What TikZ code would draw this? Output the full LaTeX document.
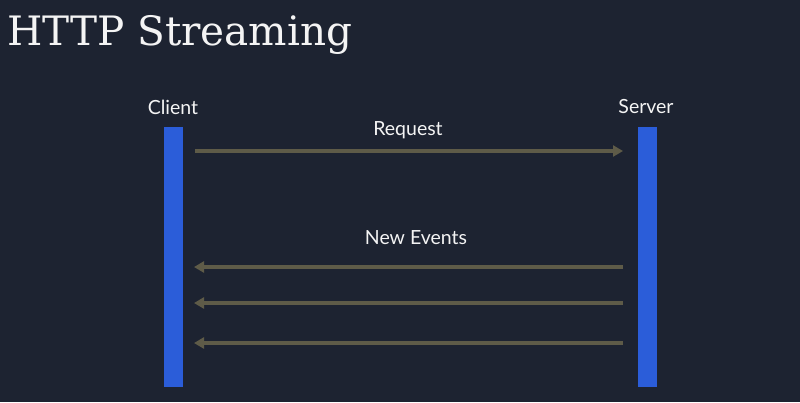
\documentclass[tikz,border=0pt]{standalone}
\usepackage{fontspec}
\setmainfont{DejaVu Serif}
\newfontfamily\labelfont{Lato}
\usetikzlibrary{arrows.meta}
\definecolor{bg}{HTML}{1D2331}
\definecolor{barblue}{HTML}{2B5DD9}
\definecolor{arrowc}{HTML}{5E5B48}
\definecolor{txt}{HTML}{F4F4F4}
\begin{document}
\begin{tikzpicture}[x=1pt,y=-1pt,
  lifeline/.style={fill=barblue,draw=none,minimum width=19pt,minimum height=260pt,inner sep=0pt},
  lbl/.style={text=txt,font=\labelfont\fontsize{19.5}{22}\selectfont,inner sep=0pt},
  msg/.style={draw=arrowc,line width=3.5pt,-{Triangle[length=10pt,width=11pt]}}]
\fill[bg] (0,0) rectangle (800,402);
\useasboundingbox (0,0) rectangle (800,402);
\node[anchor=base west,text=txt,font=\fontsize{40.5}{44}\selectfont,inner sep=0pt] (title) at (7,45) {HTTP Streaming};
\node[lifeline] (client) at (173.5,257) {};
\node[lifeline] (server) at (647,257) {};
\node[lbl] (clientlbl) at (173,107) {Client};
\node[lbl] (serverlbl) at (646,107) {Server};
\node[lbl] (reqlbl) at (408,130) {Request};
\node[lbl] (evlbl) at (416,238) {New Events};
\coordinate (c1) at (195,151); \coordinate (s1) at (623,151);
\coordinate (s2) at (623,267); \coordinate (c2) at (194,267);
\coordinate (s3) at (623,303); \coordinate (c3) at (194,303);
\coordinate (s4) at (623,343); \coordinate (c4) at (194,343);
\draw[msg] (c1) -- (s1);
\draw[msg] (s2) -- (c2);
\draw[msg] (s3) -- (c3);
\draw[msg] (s4) -- (c4);
\end{tikzpicture}
\end{document}
